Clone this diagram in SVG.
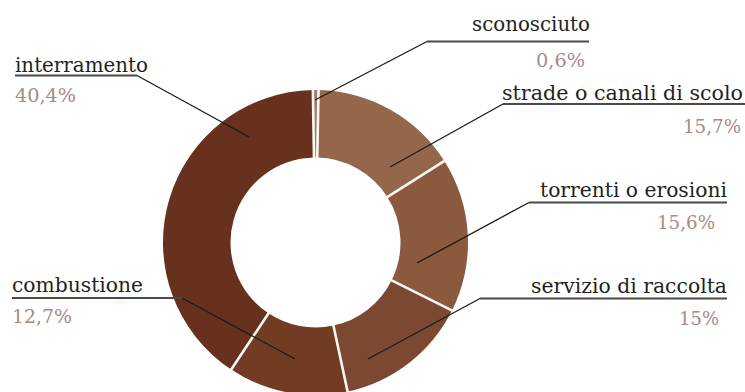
<svg xmlns="http://www.w3.org/2000/svg" width="745" height="392" viewBox="0 0 745 392">
<style>
text{font-family:'DejaVu Serif','Liberation Serif',serif}
.lbl{font-size:19.5px;fill:#231f1e}
.pct{font-size:19px;fill:#a58b84}
.ul{stroke:#4a4a4a;stroke-width:2;fill:none}
.ld{stroke:#1e1a18;stroke-width:1.3;fill:none}
.sep{stroke:#fdf8ef;stroke-width:2.6}
</style>
<rect width="745" height="392" fill="#ffffff"/>
<g id="donut">
<path id="s-sconosciuto" fill="#a07a66" d="M312.84,90.02 A152.5,152.5 0 0 1 318.59,90.03 L317.22,157.52 A85,85 0 0 0 314.02,157.51 Z"/>
<path id="s-strade" fill="#94664c" d="M318.59,90.03 A152.5,152.5 0 0 1 444.37,160.97 L387.33,197.06 A85,85 0 0 0 317.22,157.52 Z"/>
<path id="s-torrenti" fill="#8b5a3e" d="M444.37,160.97 A152.5,152.5 0 0 1 451.98,310.55 L391.57,280.43 A85,85 0 0 0 387.33,197.06 Z"/>
<path id="s-servizio" fill="#7c4832" d="M451.98,310.55 A152.5,152.5 0 0 1 347.62,391.58 L333.41,325.59 A85,85 0 0 0 391.57,280.43 Z"/>
<path id="s-combustione" fill="#713b24" d="M347.62,391.58 A152.5,152.5 0 0 1 231.20,369.58 L268.51,313.33 A85,85 0 0 0 333.41,325.59 Z"/>
<path id="s-interramento" fill="#67311e" d="M231.20,369.58 A152.5,152.5 0 0 1 312.84,90.02 L314.02,157.51 A85,85 0 0 0 268.51,313.33 Z"/>
<g id="separators">
<line class="sep" x1="312.84" y1="88" x2="314.02" y2="159"/>
<line class="sep" x1="318.59" y1="88" x2="317.22" y2="159"/>
<line class="sep" x1="446.1" y1="159.9" x2="386" y2="197.9"/>
<line class="sep" x1="453.8" y1="311.4" x2="390.2" y2="279.7"/>
<line class="sep" x1="348" y1="393.5" x2="333.1" y2="324.1"/>
<line class="sep" x1="230.1" y1="371.3" x2="269.4" y2="312"/>
</g>
</g>
<g id="connectors">
<line class="ul" x1="427" y1="41.5" x2="589" y2="41.5"/>
<line class="ld" x1="427" y1="41.5" x2="315" y2="100"/>
<line class="ul" x1="15" y1="75.5" x2="137" y2="75.5"/>
<line class="ld" x1="137" y1="75.5" x2="249" y2="137"/>
<line class="ul" x1="503" y1="104" x2="745" y2="104"/>
<line class="ld" x1="503" y1="104" x2="390" y2="167"/>
<line class="ul" x1="529" y1="202.5" x2="727" y2="202.5"/>
<line class="ld" x1="529" y1="202.5" x2="417" y2="263"/>
<line class="ul" x1="480" y1="298.5" x2="727" y2="298.5"/>
<line class="ld" x1="480" y1="298.5" x2="368" y2="359"/>
<line class="ul" x1="12" y1="298" x2="182" y2="298"/>
<line class="ld" x1="182" y1="298" x2="295" y2="359"/>
</g>
<g id="label-sconosciuto">
<text class="lbl" x="590" y="31" text-anchor="end" textLength="118" lengthAdjust="spacingAndGlyphs">sconosciuto</text>
<text class="pct" x="585" y="67" text-anchor="end" textLength="49" lengthAdjust="spacingAndGlyphs">0,6%</text>
</g>
<g id="label-interramento">
<text class="lbl" x="15" y="72" textLength="133" lengthAdjust="spacingAndGlyphs">interramento</text>
<text class="pct" x="15" y="102" textLength="61" lengthAdjust="spacingAndGlyphs">40,4%</text>
</g>
<g id="label-strade">
<text class="lbl" x="743" y="100" text-anchor="end" textLength="241" lengthAdjust="spacingAndGlyphs">strade o canali di scolo</text>
<text class="pct" x="741" y="133" text-anchor="end" textLength="58" lengthAdjust="spacingAndGlyphs">15,7%</text>
</g>
<g id="label-torrenti">
<text class="lbl" x="727" y="197" text-anchor="end" textLength="187" lengthAdjust="spacingAndGlyphs">torrenti o erosioni</text>
<text class="pct" x="715" y="229" text-anchor="end" textLength="58" lengthAdjust="spacingAndGlyphs">15,6%</text>
</g>
<g id="label-servizio">
<text class="lbl" x="727" y="293" text-anchor="end" textLength="196" lengthAdjust="spacingAndGlyphs">servizio di raccolta</text>
<text class="pct" x="719" y="324.5" text-anchor="end" textLength="40" lengthAdjust="spacingAndGlyphs">15%</text>
</g>
<g id="label-combustione">
<text class="lbl" x="12" y="292" textLength="131" lengthAdjust="spacingAndGlyphs">combustione</text>
<text class="pct" x="12" y="323" textLength="60" lengthAdjust="spacingAndGlyphs">12,7%</text>
</g>
</svg>
